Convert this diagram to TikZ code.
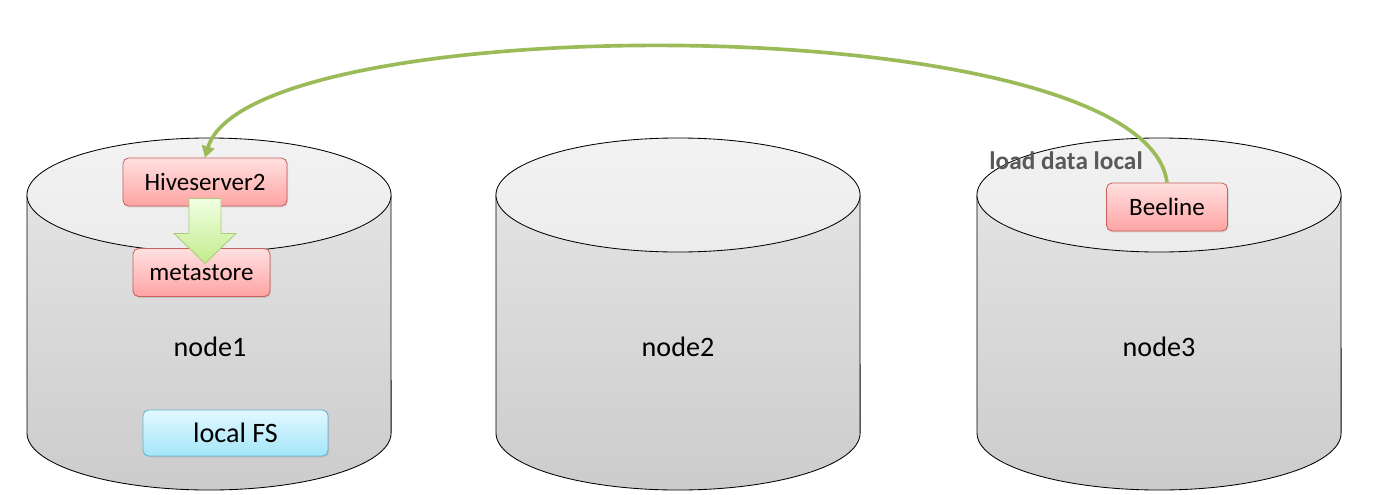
\documentclass[tikz,border=0pt]{standalone}
\usepackage{fontspec}
\setmainfont{Carlito}
\usetikzlibrary{arrows.meta, calc, shadows}

\definecolor{boxred}{HTML}{C9605E}
\definecolor{leafgreen}{HTML}{9BBB59}
\definecolor{leaftop}{HTML}{F2FFE4}
\definecolor{leafbottom}{HTML}{C2EC8C}
\definecolor{skyline}{HTML}{62B4CC}
\definecolor{skytop}{HTML}{E2F8FF}
\definecolor{skybottom}{HTML}{A4E6F9}
\definecolor{labelgray}{HTML}{595959}

\begin{document}
\begin{tikzpicture}[
    x=0.025cm, y=-0.025cm,
    cylbody/.style={draw, line width=0.6pt, top color=gray!22, bottom color=gray!40},
    cyltop/.style={draw, line width=0.6pt, top color=gray!10, bottom color=gray!15},
    hostlabel/.style={font=\fontsize{20pt}{24pt}\selectfont},
    procbox/.style={draw=boxred, line width=0.6pt, rounded corners=4pt, top color=red!12, bottom color=red!36,
        minimum height=1.2cm, font=\fontsize{17.8pt}{20pt}\selectfont,
        drop shadow={opacity=0.25, shadow xshift=0.7pt, shadow yshift=-0.9pt}},
    fsbox/.style={draw=skyline, line width=0.6pt, rounded corners=4pt, top color=skytop, bottom color=skybottom,
        minimum width=4.625cm, minimum height=1.15cm, font=\fontsize{20pt}{24pt}\selectfont,
        drop shadow={opacity=0.25, shadow xshift=0.7pt, shadow yshift=-0.9pt}},
    fatarrow/.style={draw=leafgreen!80, line width=0.6pt, top color=leaftop, bottom color=leafbottom},
    flow/.style={draw=leafgreen, line width=2.6pt, -{Triangle[length=8pt, width=9pt]}}
]

\useasboundingbox (0,0) rectangle (1374,494);

% three hosts
\draw[cylbody] (27,195) -- (27,433) arc[start angle=180, end angle=360, x radius=4.55cm, y radius=1.425cm] -- (391,195) -- cycle;
\draw[cyltop] (209,195) ellipse[x radius=4.55cm, y radius=1.425cm];
\draw[cylbody] (496,195) -- (496,433) arc[start angle=180, end angle=360, x radius=4.55cm, y radius=1.425cm] -- (860,195) -- cycle;
\draw[cyltop] (678,195) ellipse[x radius=4.55cm, y radius=1.425cm];
\draw[cylbody] (977,195) -- (977,433) arc[start angle=180, end angle=360, x radius=4.55cm, y radius=1.425cm] -- (1341,195) -- cycle;
\draw[cyltop] (1159,195) ellipse[x radius=4.55cm, y radius=1.425cm];

\node[hostlabel] (node1) at (210,347) {node1};
\node[hostlabel] (node2) at (678,347) {node2};
\node[hostlabel] (node3) at (1159,347) {node3};

\node[procbox, minimum width=4.1cm] (hive) at (205,182) {Hiveserver2};
\node[procbox, minimum width=3.425cm] (meta) at (201.5,272.5) {metastore};
\node[fsbox] (localfs) at (235.5,433) {local FS};
\node[procbox, minimum width=3.025cm] (beeline) at (1167,207) {Beeline};

\node[font=\fontsize{18pt}{22pt}\selectfont\bfseries, text=labelgray] (loadcmd) at (1066,161) {load data local};

% hiveserver2 to metastore
\draw[fatarrow] ($(hive.south)+(-16,-8)$) -- ++(32,0) -- ++(0,35) -- ++(15,0) -- ++(-31,30) -- ++(-31,-30) -- ++(15,0) -- cycle;

% beeline to hiveserver2
\draw[flow] (beeline.north) .. controls (1145,6) and (250,6) .. (hive.north);

\end{tikzpicture}
\end{document}
